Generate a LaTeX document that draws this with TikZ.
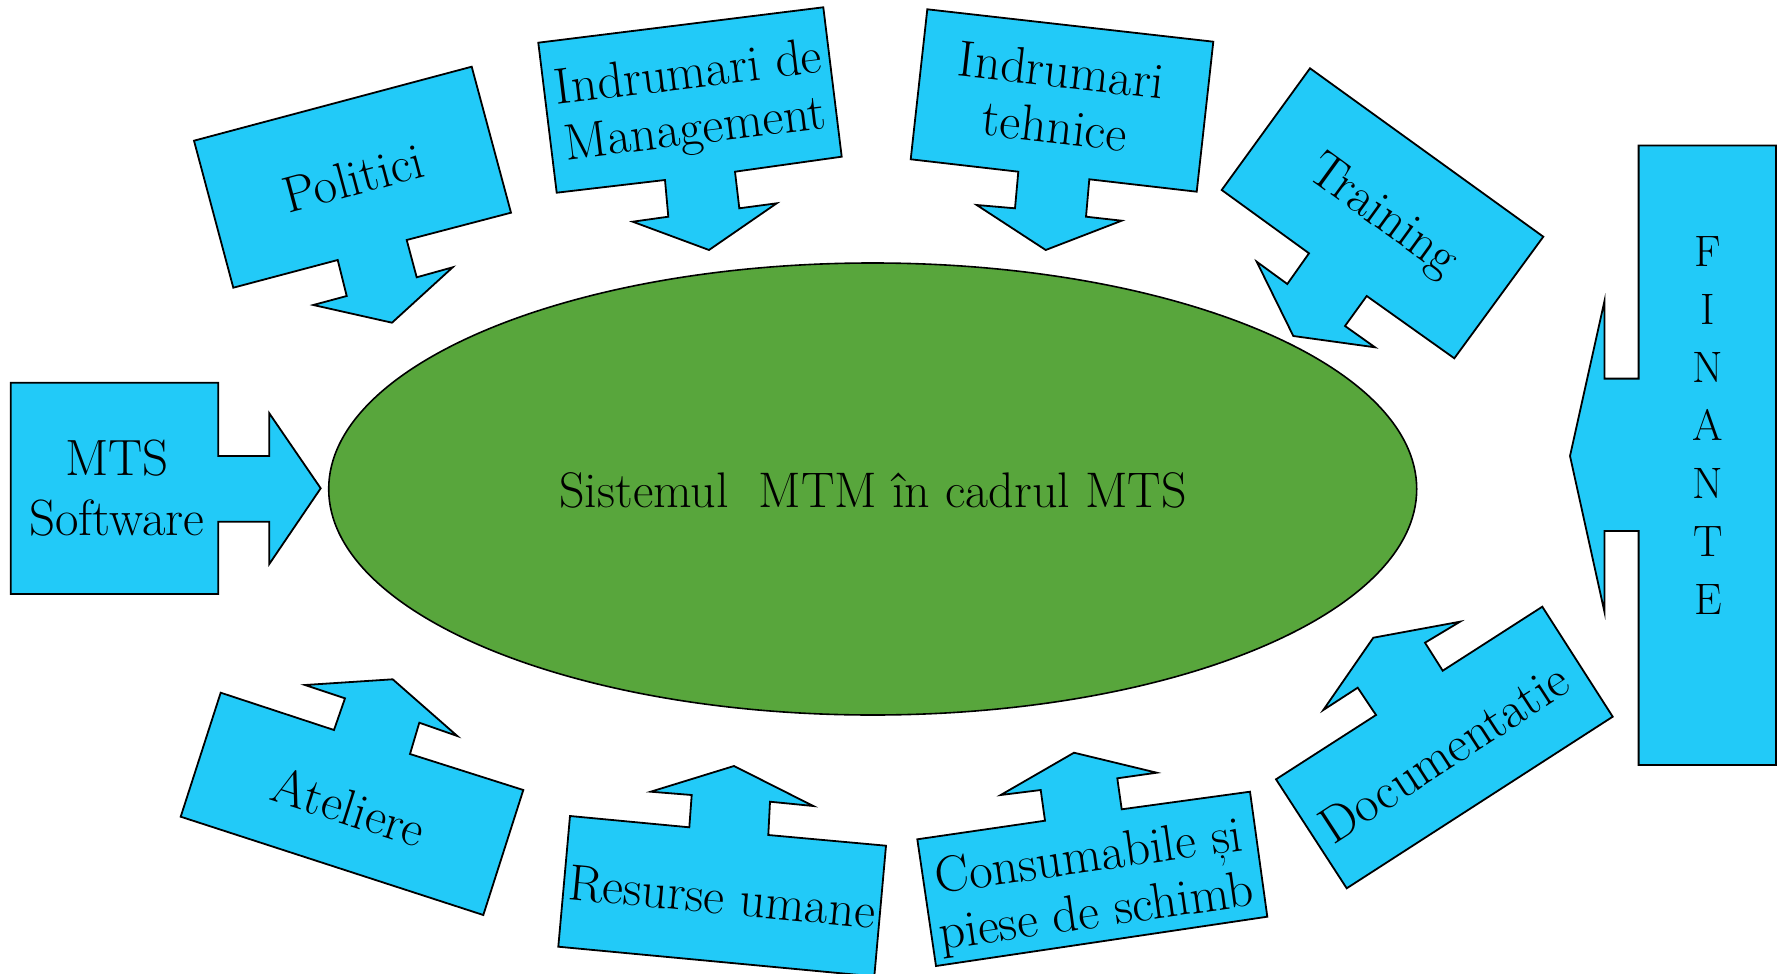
\documentclass[tikz,border=0pt]{standalone}
\usetikzlibrary{shapes.geometric}
\definecolor{callcyan}{RGB}{34,202,248}
\definecolor{ellgreen}{RGB}{88,166,60}
\tikzset{
  callout/.style={fill=callcyan, draw=black, line width=1.8pt, line join=miter},
  lbl/.style={font=\fontsize{51}{56}\selectfont, align=center, inner sep=0pt, text=black},
}
\begin{document}
\begin{tikzpicture}[x=1pt,y=-1pt]
\useasboundingbox[fill=white] (0,0) rectangle (1783,974);

% central ellipse
\node (sys) [ellipse, fill=ellgreen, draw=black, line width=1.6pt,
  minimum width=1088pt, minimum height=452pt, inner sep=0pt] at (872.7,489) {};
\node (systxt) [font=\fontsize{50}{55}\selectfont, inner sep=0pt] at (873,490) {Sistemul\ \ MTM în cadrul MTS};

% Politici
\draw[callout] (194,140.7) -- (471.7,66.7) -- (511,212.7) -- (406.7,240) -- (416.7,277.3) -- (452.7,267.3) -- (392,322.7) -- (313.3,305) -- (346.7,296) -- (337.7,260) -- (233.3,287.7) -- cycle;
\node (pol) [lbl, rotate=15] at (353,178) {Politici};

% Indrumari de Management
\draw[callout] (538.3,42.7) -- (823.3,7.3) -- (841.7,156.7) -- (735,171.7) -- (739.3,208.3) -- (776.7,203.3) -- (709,250) -- (632.7,221.7) -- (668.3,216.7) -- (665,180) -- (556.7,192.7) -- cycle;
\node (mgmt) [lbl, rotate=7] at (692,104) {Indrumari de\\Management};

% Indrumari tehnice
\draw[callout] (927.3,9.3) -- (1213.3,41.7) -- (1196.7,191.7) -- (1089.3,179.3) -- (1086,216.7) -- (1121.7,220.7) -- (1045.7,250) -- (976.7,205) -- (1015,208.3) -- (1018.3,171.7) -- (910.7,159.3) -- cycle;
\node (teh) [lbl, rotate=-6.5] at (1058,98) {Indrumari\\tehnice};

% Training
\draw[callout] (1310,68.3) -- (1543.3,236.7) -- (1454.3,358.3) -- (1366.7,296) -- (1345,326) -- (1375,347.3) -- (1293.3,336) -- (1256.7,261.7) -- (1287.3,284) -- (1309,253.3) -- (1221.7,190) -- cycle;
\node (train) [lbl, rotate=-36] at (1382,217) {Training};

% FINANTE
\draw[callout] (1638.6,145.5) -- (1776,145.5) -- (1776,765) -- (1638.6,765) -- (1638.6,531) -- (1604.4,531) -- (1604.4,611.7) -- (1570,456) -- (1604.4,301.3) -- (1604.4,378.6) -- (1638.6,378.6) -- cycle;
\node (fin) [font=\fontsize{44}{58}\selectfont, align=center, inner sep=0pt] at (1708,426) {F\\I\\N\\A\\N\\T\\E};

% MTS Software
\draw[callout] (10.7,382.7) -- (218.3,382.7) -- (218.3,456) -- (269.3,456) -- (269.3,413.3) -- (320.7,488.3) -- (269.3,564) -- (269.3,521.7) -- (218.3,521.7) -- (218.3,594) -- (10.7,594) -- cycle;
\node (mts) [lbl, font=\fontsize{51}{60}\selectfont] at (117,488) {MTS\\Software};

% Ateliere
\draw[callout] (220.7,692.7) -- (334,730) -- (345,698.3) -- (305,685) -- (392.7,679.3) -- (457.3,736) -- (419.3,722.7) -- (410,754) -- (523.3,790) -- (483.3,915) -- (180.7,816.7) -- cycle;
\node (atel) [lbl, rotate=-17.8] at (349,807) {Ateliere};

% Resurse umane
\draw[callout] (570,816) -- (689.3,827.3) -- (691.7,795) -- (650.7,791.7) -- (734,766) -- (813.3,806) -- (770,801.7) -- (768.3,835) -- (886,845.7) -- (874.3,976.4) -- (558.3,946.7) -- cycle;
\node (res) [lbl, rotate=-5.4] at (722,897) {Resurse umane};

% Consumabile si piese de schimb
\draw[callout] (917.3,839.3) -- (1045,820.7) -- (1040.7,790) -- (1000.7,795) -- (1074,752.7) -- (1156.7,772.7) -- (1117.3,778.3) -- (1121.7,809.3) -- (1250,791.7) -- (1267.3,916.7) -- (936,966) -- cycle;
\node (cons) [lbl, rotate=8.1] at (1093,887) {Consumabile și\\piese de schimb};

% Documentatie
\draw[callout] (1276,779.3) -- (1376,715) -- (1357.7,687.7) -- (1323.3,710) -- (1373.3,637.7) -- (1460,621.7) -- (1425,642.7) -- (1442.7,670.7) -- (1542.3,606.7) -- (1612.7,716.7) -- (1346.7,888.3) -- cycle;
\node (doc) [lbl, rotate=33] at (1444,753) {Documentatie};

\end{tikzpicture}
\end{document}
